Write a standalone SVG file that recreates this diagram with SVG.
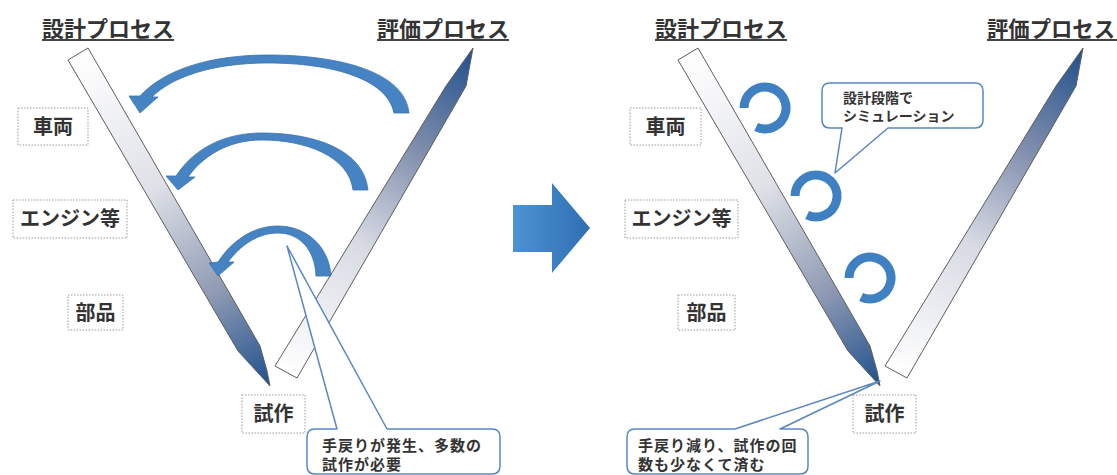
<svg xmlns="http://www.w3.org/2000/svg" width="1117" height="475" viewBox="0 0 1117 475">
<style>
.t{font-family:"Noto Sans CJK JP","Noto Sans CJK SC",sans-serif;font-weight:700;fill:#333}
.title{font-size:22px}
.lbl{font-size:20px;text-anchor:middle}
.lb{fill:#fff;stroke:#9a9a9a;stroke-width:1;stroke-dasharray:1.5 1.5}
.co{fill:#fff;stroke:#5a86c2;stroke-width:1.5;stroke-linejoin:round}
.cot{font-size:15px;letter-spacing:1px}
.cot2{font-size:14px}
.bar{stroke:#5d5d5d;stroke-width:1;stroke-linejoin:round}
.arc{fill:#4683c3;stroke:#3b72ad;stroke-width:0.8;stroke-linejoin:round}
.loop{fill:none;stroke:#3f80c3;stroke-width:9}
.ul{stroke:#444;stroke-width:2}
</style>
<defs>
<linearGradient id="gDesign" gradientUnits="userSpaceOnUse" x1="78" y1="54" x2="270" y2="386">
<stop offset="0" stop-color="#ffffff"/>
<stop offset="0.4" stop-color="#dfe1e8"/>
<stop offset="0.72" stop-color="#8e9ab3"/>
<stop offset="1" stop-color="#1f4f8c"/>
</linearGradient>
<linearGradient id="gEval" gradientUnits="userSpaceOnUse" x1="473" y1="48" x2="286" y2="372">
<stop offset="0" stop-color="#1f4f8c"/>
<stop offset="0.3" stop-color="#7d8cab"/>
<stop offset="0.6" stop-color="#d7dae3"/>
<stop offset="1" stop-color="#ffffff"/>
</linearGradient>
<linearGradient id="gBig" x1="0" y1="0" x2="1" y2="0">
<stop offset="0" stop-color="#4c93d3"/>
<stop offset="1" stop-color="#2f6fb3"/>
</linearGradient>
</defs>
<rect width="1117" height="475" fill="#fff"/>

<!-- Left panel -->
<g id="title-design-left">
<text class="t title" x="42" y="37">設計プロセス</text>
<line class="ul" x1="42" y1="40" x2="174" y2="40"/>
</g>
<g id="title-eval-left">
<text class="t title" x="377" y="37">評価プロセス</text>
<line class="ul" x1="377" y1="40" x2="509" y2="40"/>
</g>
<g id="bar-design-left">
<polygon class="bar" fill="url(#gDesign)" points="68,60 88,48 260,346 267,371 270,386 238,351"/>
</g>
<g id="bar-eval-left">
<polygon class="bar" fill="url(#gEval)" points="275,366 297,378 466,86 473,48 446,86"/>
</g>
<g id="label-vehicle-left">
<rect class="lb" x="18" y="108" width="70" height="37"/>
<text class="t lbl" x="53" y="134">車両</text>
</g>
<g id="label-engine-left">
<rect class="lb" x="13" y="200" width="114" height="38"/>
<text class="t lbl" x="70" y="226">エンジン等</text>
</g>
<g id="label-parts-left">
<rect class="lb" x="68" y="295" width="55" height="35"/>
<text class="t lbl" x="95.5" y="320">部品</text>
</g>
<g id="label-proto-left">
<rect class="lb" x="242" y="395" width="63" height="38"/>
<text class="t lbl" x="273.5" y="421">試作</text>
</g>

<g id="connectors">
<path class="arc" d="M 409,113 C 405,72 340,55 268,55 C 205,55 162,72 140,96 L 129,96 L 140,113 L 158,97 L 152,97 C 172,77 212,63 268,63 C 330,63 387,78 394,113 Z"/>
<path class="arc" d="M 368,190 C 364,150 315,133 262,133 C 222,133 193,150 176,176 L 166,176 L 178,190 L 195,177 L 188,177 C 203,156 228,140 262,140 C 305,140 349,156 353,190 Z"/>
<path class="arc" d="M 331,276 C 329,246 306,226 278,226 C 252,226 231,242 218,262 L 209,263 L 218,276 L 234,262 L 228,262 C 240,246 257,233 278,233 C 300,233 315,250 316,276 Z"/>
<path class="loop" d="M 744,108 A 21 21 0 1 1 756.1,127"/>
<path class="loop" d="M 795,196 A 21 21 0 1 1 807.1,215"/>
<path class="loop" d="M 849,278 A 21 21 0 1 1 861.1,297"/>
</g>

<g id="callout-left">
<path class="co" d="M 315,429 H 337 L 287,246 L 387,429 H 492 Q 500,429 500,437 V 466 Q 500,474 492,474 H 315 Q 307,474 307,466 V 437 Q 307,429 315,429 Z"/>
<text class="t cot" x="322" y="451">手戻りが発生、多数の</text>
<text class="t cot" x="322" y="470">試作が必要</text>
</g>

<g id="big-arrow">
<polygon fill="url(#gBig)" points="513,205 552,205 552,183 590,228 552,273 552,252 513,252"/>
</g>

<!-- Right panel -->
<g id="title-design-right">
<text class="t title" x="655" y="37">設計プロセス</text>
<line class="ul" x1="655" y1="40" x2="787" y2="40"/>
</g>
<g id="title-eval-right">
<text class="t title" x="987" y="37" textLength="128" lengthAdjust="spacingAndGlyphs">評価プロセス</text>
<line class="ul" x1="987" y1="40" x2="1117" y2="40"/>
</g>
<g id="bar-design-right" transform="translate(610,0)">
<polygon class="bar" fill="url(#gDesign)" points="68,60 88,48 260,346 267,371 270,386 238,351"/>
</g>
<g id="bar-eval-right" transform="translate(610,0)">
<polygon class="bar" fill="url(#gEval)" points="275,366 297,378 466,86 473,48 446,86"/>
</g>
<g id="label-vehicle-right">
<rect class="lb" x="630" y="108" width="71" height="37"/>
<text class="t lbl" x="665.5" y="134">車両</text>
</g>
<g id="label-engine-right">
<rect class="lb" x="625" y="200" width="113" height="38"/>
<text class="t lbl" x="681.5" y="226">エンジン等</text>
</g>
<g id="label-parts-right">
<rect class="lb" x="678" y="295" width="57" height="35"/>
<text class="t lbl" x="706.5" y="320">部品</text>
</g>
<g id="label-proto-right">
<rect class="lb" x="853" y="395" width="63" height="38"/>
<text class="t lbl" x="884.5" y="421">試作</text>
</g>
<g id="callout-sim">
<path class="co" d="M 830,83 H 975 Q 983,83 983,91 V 120 Q 983,128 975,128 H 888 L 835,173 L 842,128 H 830 Q 822,128 822,120 V 91 Q 822,83 830,83 Z"/>
<text class="t cot2" x="843" y="103">設計段階で</text>
<text class="t cot2" x="843" y="121">シミュレーション</text>
</g>
<g id="callout-right">
<path class="co" d="M 635,429 H 735 L 880,381 L 780,429 H 800 Q 808,429 808,437 V 466 Q 808,474 800,474 H 635 Q 627,474 627,466 V 437 Q 627,429 635,429 Z"/>
<text class="t cot" x="638" y="451">手戻り減り、試作の回</text>
<text class="t cot" x="638" y="470">数も少なくて済む</text>
</g>
</svg>
